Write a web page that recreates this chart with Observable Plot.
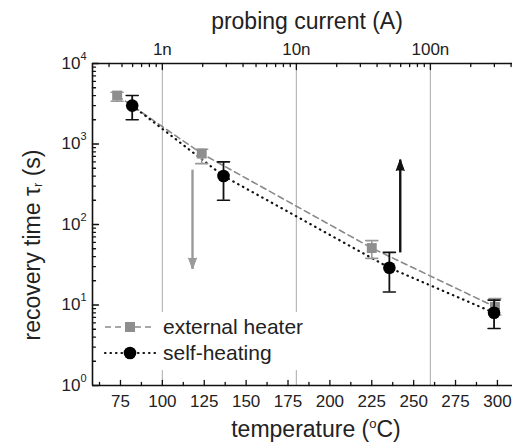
<!DOCTYPE html>
<html><head><meta charset="utf-8">
<script src="https://cdn.jsdelivr.net/npm/d3@7"></script>
<script src="https://cdn.jsdelivr.net/npm/@observablehq/plot@0.6"></script>
<style>
body{margin:0;background:#fff;}
svg{font-family:"Liberation Sans",Arial,Helvetica,sans-serif;}
</style></head><body><div id="chart"></div>
<script>
// ---- data ----
const extT   = [73, 123.5, 225, 298.5];
const extTau = [4000, 760, 51, 9.5];
const extLo  = [3400, 570, 38, 7.5];
const extHi  = [4400, 860, 63, 12];

const selfT   = [82, 136.5, 235.5, 298];
const selfTau = [3000, 400, 29, 8];
const selfLo  = [2000, 200, 14.5, 5.1];
const selfHi  = [4000, 600, 45, 11.5];

const arrowT     = [118, 242];
const arrowFrom  = [480, 45];
const arrowTo    = [28, 640];
const arrowColor = ["#9a9a9a", "#111111"];

const xTicks = [75, 100, 125, 150, 175, 200, 225, 250, 275, 300];
const yExp = [0, 1, 2, 3, 4];
const currentExp = [-9, -8, -7];
const currentLabels = ["1n", "10n", "100n"];
const seriesNames = ["external heater", "self-heating"];

// probing current ↔ temperature: 1n at 100 °C, 80 °C per decade
const tempOfCurrentExp = e => 100 + 80 * (e + 9);

const xDomain = [58.3, 309];
const ext = extT.map((T, i) => ({T, tau: extTau[i], lo: extLo[i], hi: extHi[i]}));
const self = selfT.map((T, i) => ({T, tau: selfTau[i], lo: selfLo[i], hi: selfHi[i]}));
const arrows = arrowT.map((T, i) => ({T, from: arrowFrom[i], to: arrowTo[i], c: arrowColor[i]}));

const yTicks = yExp.map(e => 10 ** e);
const yMinor = [];
for (const e of yExp.slice(0, -1)) for (let k = 2; k <= 9; k++) yMinor.push(k * 10 ** e);
const xMinor = xTicks.map(t => t + 12.5).filter(t => t < xDomain[1]).concat([62.5]);
const topMajor = currentExp.map(tempOfCurrentExp);
const topMinor = [];
for (const e of [-10, -9, -8, -7]) for (let k = 2; k <= 9; k++) {
  const t = tempOfCurrentExp(e + Math.log10(k));
  if (t > xDomain[0] && t < xDomain[1]) topMinor.push(t);
}
const topLabel = new Map(topMajor.map((t, i) => [t, currentLabels[i]]));

const lineShape = {draw(ctx, l) { ctx.moveTo(0, 0); ctx.lineTo(0, -l); }};
const tickV = (data, opts) => Plot.vector(data, {shape: lineShape, anchor: "start", stroke: "#111", strokeWidth: 1.3, ...opts});
const caps = (data, key, color) => Plot.vector(data, {x: "T", y: key, length: 12, rotate: 90, anchor: "middle", shape: lineShape, stroke: color, strokeWidth: 1.6});

const chart = Plot.plot({
  width: 512, height: 446,
  marginLeft: 92, marginRight: 0, marginTop: 63, marginBottom: 61,
  x: {domain: xDomain},
  y: {type: "log", domain: [1, 10000]},
  style: {fontFamily: '"Liberation Sans", Arial, sans-serif', fontSize: "17px", color: "#222", background: "white"},
  marks: [
    Plot.ruleX(topMajor, {stroke: "#b8b8b8", strokeWidth: 1.2}),
    Plot.line(ext, {x: "T", y: "tau", stroke: "#8a8a8a", strokeWidth: 1.6, strokeDasharray: "6,4"}),
    Plot.line(self, {x: "T", y: "tau", stroke: "#111", strokeWidth: 2.2, strokeDasharray: "0.5,5", strokeLinecap: "round"}),
    Plot.link(arrows, {x1: "T", x2: "T", y1: "from", y2: "to", stroke: "c", strokeWidth: 2.4}),
    Plot.vector(arrows, {x: "T", y: "to", rotate: d => d.to < d.from ? 180 : 0, length: 11, r: 4, shape: "spike", anchor: "end", fill: "c", stroke: "c", strokeWidth: 1}),
    Plot.ruleX(ext, {x: "T", y1: "lo", y2: "hi", stroke: "#999", strokeWidth: 1.6}),
    caps(ext, "lo", "#999"), caps(ext, "hi", "#999"),
    Plot.dot(ext, {x: "T", y: "tau", symbol: "square", r: 5.6, fill: "#8e8e8e", stroke: "none"}),
    Plot.ruleX(self, {x: "T", y1: "lo", y2: "hi", stroke: "#111", strokeWidth: 1.8}),
    caps(self, "lo", "#111"), caps(self, "hi", "#111"),
    Plot.dot(self, {x: "T", y: "tau", r: 6.3, fill: "#000", stroke: "none"}),
    // frame (right side is cropped in the reference)
    Plot.ruleY([1, 10000], {stroke: "#111", strokeWidth: 1.6}),
    Plot.ruleX([xDomain[0]], {stroke: "#111", strokeWidth: 1.6}),
    // inward ticks
    tickV(xTicks, {x: d => d, frameAnchor: "bottom", length: 5}),
    tickV(xMinor, {x: d => d, frameAnchor: "bottom", length: 3}),
    tickV(topMajor, {x: d => d, frameAnchor: "top", rotate: 180, length: 6}),
    tickV(topMinor, {x: d => d, frameAnchor: "top", rotate: 180, length: 3}),
    tickV(yTicks, {y: d => d, frameAnchor: "left", rotate: 90, length: 6}),
    tickV(yMinor, {y: d => d, frameAnchor: "left", rotate: 90, length: 3}),
    Plot.axisX(xTicks, {anchor: "bottom", tickSize: 0, tickPadding: 9, label: null, tickFormat: d => String(d)}),
    Plot.axisX(topMajor, {anchor: "top", tickSize: 0, tickPadding: 9, label: null, tickFormat: d => topLabel.get(d)}),
    Plot.axisY(yTicks, {anchor: "left", tickSize: 0, tickPadding: 6, label: null, tickFormat: d => "10^" + Math.round(Math.log10(d))})
  ]
});
document.getElementById("chart").appendChild(chart);

const svg = d3.select(chart);
// superscripts on y tick labels
svg.selectAll('g[aria-label="y-axis tick label"] text').each(function() {
  const t = d3.select(this);
  const [base, exp] = t.text().split("^");
  t.text(base);
  t.append("tspan").attr("dy", -9).attr("font-size", "11px").text(exp);
});

const fs = 23;
// axis titles
svg.append("text").attr("x", 307).attr("y", 29).attr("text-anchor", "middle")
  .attr("font-size", fs).attr("fill", "#222").text("probing current (A)");
const xt = svg.append("text").attr("x", 316).attr("y", 437).attr("text-anchor", "middle")
  .attr("font-size", fs).attr("fill", "#222");
xt.append("tspan").text("temperature (");
xt.append("tspan").attr("font-size", 13).attr("dy", -9).text("o");
xt.append("tspan").attr("dy", 9).text("C)");
const yt = svg.append("text").attr("transform", "translate(32,245) rotate(-90)").attr("text-anchor", "middle")
  .attr("dominant-baseline", "central").attr("font-size", fs).attr("fill", "#222");
yt.append("tspan").text("recovery time τ");
yt.append("tspan").attr("font-size", 13).attr("dy", 5).text("r");
yt.append("tspan").attr("dy", -5).text(" (s)");

// legend
const lg = svg.append("g").attr("text-anchor", "start");
lg.append("rect").attr("x", 98).attr("y", 312).attr("width", 210).attr("height", 58).attr("fill", "#ffffff");
const rows = [
  {y: 327, stroke: "#8a8a8a", dash: "6,4", w: 1.6, cap: "butt"},
  {y: 353, stroke: "#111", dash: "0.5,5", w: 2.2, cap: "round"}
];
rows.forEach((r, i) => {
  lg.append("line").attr("x1", 105).attr("x2", 155).attr("y1", r.y).attr("y2", r.y)
    .attr("stroke", r.stroke).attr("stroke-width", r.w).attr("stroke-dasharray", r.dash).attr("stroke-linecap", r.cap);
  if (i === 0) lg.append("rect").attr("x", 125).attr("y", r.y - 5).attr("width", 10).attr("height", 10).attr("fill", "#8e8e8e");
  else lg.append("circle").attr("cx", 130).attr("cy", r.y).attr("r", 6.3).attr("fill", "#000");
  lg.append("text").attr("x", 163).attr("y", r.y).attr("dy", "0.35em").attr("font-size", 21).attr("fill", "#222").text(seriesNames[i]);
});
</script>
</body></html>
